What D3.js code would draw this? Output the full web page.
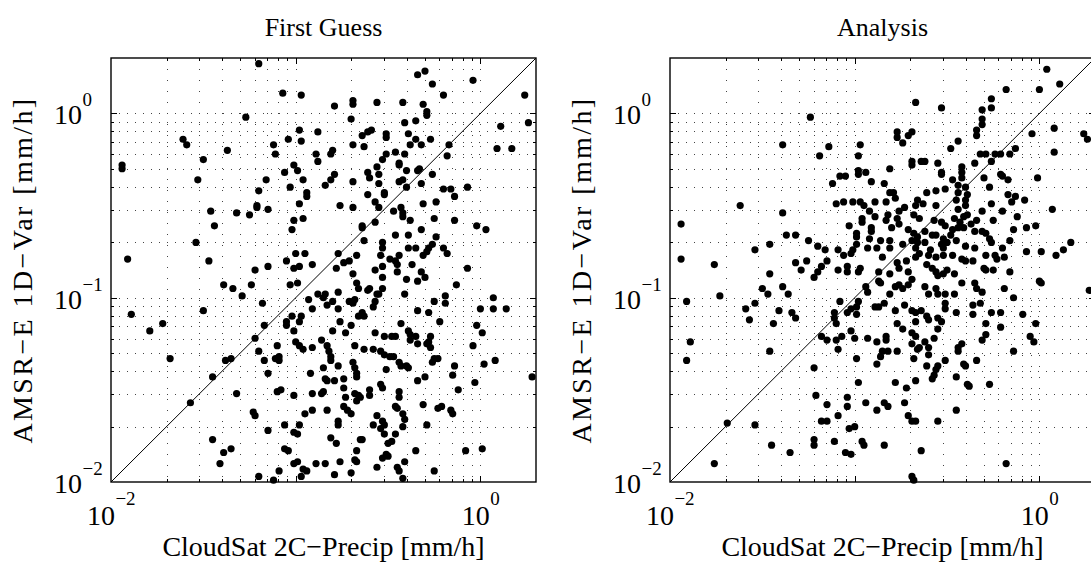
<!DOCTYPE html>
<html>
<head>
<meta charset="utf-8">
<script src="https://cdn.jsdelivr.net/npm/d3@7"></script>
<style>
  body { margin: 0; background: #fff; }
  svg { display: block; }
</style>
</head>
<body>
<div id="chart-area"></div>
<script>
// labels and axis settings
const panelTitles = ["First Guess", "Analysis"];
const xLabel = "CloudSat 2C\u2212Precip [mm/h]";
const yLabel = "AMSR\u2212E 1D\u2212Var [mm/h]";
const axisLimits = [0.01, 2];
const xTickExponents = [-2, 0];
const yTickExponents = [-2, -1, 0];

// [log10 CloudSat rain, log10 AMSR-E 1D-Var rain], mm/h
const firstGuessLog10 = [
  [-1.20,0.27],[-1.07,0.11],[-0.97,0.10],[-1.27,-0.02],[-0.98,-0.09],[-0.88,-0.10],[-1.61,-0.14],[-1.59,-0.17],[-1.04,-0.14],[-0.97,-0.15],
  [-1.12,-0.17],[-1.11,-0.22],[-1.37,-0.20],[-1.50,-0.25],[-0.89,-0.22],[-0.88,-0.26],[-1.94,-0.28],[-1.94,-0.30],[-1.01,-0.28],[-0.99,-0.31],
  [-1.06,-0.32],[-1.53,-0.36],[-1.16,-0.36],[-0.96,-0.36],[-1.20,-0.42],[-1.03,-0.40],[-0.94,-0.43],[-0.94,-0.45],[-0.98,-0.49],[-1.21,-0.50],
  [-1.21,-0.51],[-1.15,-0.52],[-1.46,-0.53],[-1.32,-0.54],[-1.25,-0.55],[-0.96,-0.57],[-1.01,-0.58],[-1.44,-0.61],[-1.02,-0.63],[-1.54,-0.70],
  [-1.91,-0.79],[-1.00,-0.76],[-0.95,-0.76],[-1.05,-0.80],[-1.47,-0.80],[-1.01,-0.84],[-0.98,-0.83],[-0.91,-0.82],[-1.15,-0.83],[-1.22,-0.85],
  [-1.39,-0.93],[-1.34,-0.95],[-1.24,-0.93],[-1.03,-0.93],[-0.99,-0.92],[-1.29,-0.99],[-0.88,-0.98],[-1.18,-1.03],[-0.93,-1.01],[-0.91,-1.06],
  [-1.89,-1.09],[-1.50,-1.07],[-1.02,-1.10],[-0.97,-1.10],[-1.05,-1.13],[-0.98,-1.13],[-1.05,-1.15],[-1.79,-1.18],[-1.72,-1.14],[-1.17,-1.15],
  [-1.01,-1.18],[-1.22,-1.22],[-1.00,-1.24],[-0.98,-1.26],[-0.96,-1.28],[-0.91,-1.27],[-1.10,-1.26],[-1.20,-1.29],[-1.68,-1.33],[-1.38,-1.34],
  [-1.35,-1.33],[-1.17,-1.34],[-1.11,-1.33],[-1.09,-1.32],[-1.09,-1.34],[-1.15,-1.41],[-0.92,-1.41],[-1.45,-1.43],[-1.08,-1.50],[-1.10,-1.51],
  [-1.32,-1.52],[-1.01,-1.53],[-0.91,-1.52],[-1.57,-1.57],[-1.23,-1.62],[-1.22,-1.64],[-0.91,-1.61],[-0.95,-1.63],[-0.98,-1.69],[-1.06,-1.69],
  [-1.15,-1.72],[-1.01,-1.73],[-0.99,-1.74],[-1.45,-1.77],[-1.35,-1.82],[-1.39,-1.84],[-1.06,-1.82],[-1.04,-1.83],[-1.41,-1.90],[-1.01,-1.90],
  [-0.99,-1.89],[-0.89,-1.90],[-1.09,-1.94],[-0.96,-1.93],[-0.94,-1.94],[-1.20,-1.97],[-1.12,-1.99],[-0.97,-1.97],
  [-0.34,0.21],[-0.30,0.23],[-0.26,0.16],[-0.04,0.18],[-0.20,0.10],[0.24,0.10],[-0.79,0.04],[-0.69,0.07],[-0.69,0.05],[-0.56,0.06],
  [-0.42,0.06],[-0.31,0.05],[-0.29,0.01],[-0.29,-0.01],[-0.70,-0.03],[0.11,-0.07],[0.26,-0.05],[-0.41,-0.05],[-0.35,-0.04],[-0.64,-0.12],
  [-0.61,-0.10],[-0.59,-0.09],[-0.51,-0.11],[-0.51,-0.13],[-0.39,-0.11],[-0.35,-0.14],[-0.27,-0.14],[-0.69,-0.17],[-0.63,-0.18],[-0.38,-0.17],
  [-0.32,-0.17],[-0.17,-0.17],[-0.18,-0.23],[0.09,-0.19],[0.17,-0.19],[-0.80,-0.20],[-0.81,-0.22],[-0.46,-0.21],[-0.51,-0.22],[-0.53,-0.25],
  [-0.56,-0.29],[-0.41,-0.22],[-0.44,-0.27],[-0.44,-0.28],[-0.61,-0.32],[-0.60,-0.35],[-0.55,-0.33],[-0.40,-0.31],[-0.34,-0.31],[-0.33,-0.30],
  [-0.26,-0.33],[-0.79,-0.33],[-0.81,-0.36],[-0.84,-0.39],[-0.69,-0.37],[-0.55,-0.38],[-0.44,-0.37],[-0.42,-0.36],[-0.40,-0.40],[-0.32,-0.38],
  [-0.20,-0.41],[-0.16,-0.41],[-0.14,-0.45],[-0.07,-0.40],[-0.61,-0.44],[-0.52,-0.43],[-0.52,-0.44],[-0.57,-0.48],[-0.55,-0.51],[-0.76,-0.50],
  [-0.69,-0.51],[-0.47,-0.53],[-0.43,-0.51],[-0.42,-0.54],[-0.42,-0.56],[-0.31,-0.49],[-0.24,-0.48],[-0.38,-0.58],[-0.25,-0.57],[-0.14,-0.58],
  [-0.64,-0.61],[-0.64,-0.62],[-0.57,-0.59],[-0.02,-0.61],[0.03,-0.63],[-0.63,-0.69],[-0.46,-0.66],[-0.39,-0.66],[-0.32,-0.63],[-0.24,-0.67],
  [-0.26,-0.71],[-0.28,-0.73],[-0.20,-0.73],[-0.18,-0.76],[-0.53,-0.70],[-0.53,-0.73],[-0.54,-0.77],[-0.49,-0.79],[-0.46,-0.80],[-0.44,-0.77],
  [-0.45,-0.82],[-0.39,-0.73],[-0.35,-0.73],[-0.31,-0.77],[-0.29,-0.75],[-0.77,-0.76],[-0.67,-0.77],[-0.71,-0.80],[-0.74,-0.81],[-0.78,-0.84],
  [-0.53,-0.83],[-0.57,-0.85],[-0.53,-0.89],[-0.45,-0.86],[-0.37,-0.82],[-0.32,-0.86],[-0.30,-0.89],[-0.34,-0.91],[-0.40,-0.90],[-0.07,-0.84],
  [-0.13,-0.93],[-0.69,-0.87],[-0.67,-0.92],[-0.66,-0.95],[-0.61,-0.96],[-0.60,-0.95],[-0.53,-0.95],[-0.55,-0.98],[-0.56,-0.98],[-0.41,-0.98],
  [-0.77,-0.97],[-0.84,-0.98],[-0.85,-1.00],[-0.80,-1.02],[-0.83,-1.04],[-0.71,-1.02],[-0.68,-1.01],[-0.69,-1.03],[-0.77,-1.06],[-0.57,-1.02],
  [-0.58,-1.05],[-0.64,-1.08],[-0.63,-1.10],[-0.66,-1.10],[-0.25,-1.02],[-0.19,-0.99],[-0.19,-1.03],[-0.34,-1.07],[-0.28,-1.08],[-0.22,-1.13],
  [-0.43,-1.14],[-0.76,-1.13],[-0.70,-1.15],[-0.73,-1.19],[-0.80,-1.18],[-0.57,-1.19],[-0.52,-1.21],[-0.48,-1.21],[-0.46,-1.21],[-0.39,-1.18],
  [-0.38,-1.20],[-0.35,-1.21],[-0.38,-1.23],[-0.34,-1.25],[-0.27,-1.21],[-0.28,-1.24],[-0.29,-1.25],[-0.27,-1.27],[-0.02,-1.15],[0.01,-1.19],
  [0.00,-1.06],[0.07,-1.00],[0.07,-1.06],[0.14,-1.06],[-0.04,-1.26],[-0.86,-1.23],[-0.83,-1.26],[-0.82,-1.29],[-0.81,-1.32],[-0.81,-1.34],
  [-0.77,-1.37],[-0.85,-1.38],[-0.68,-1.26],[-0.63,-1.28],[-0.58,-1.28],[-0.54,-1.29],[-0.52,-1.31],[-0.49,-1.32],[-0.47,-1.32],[-0.44,-1.35],
  [-0.43,-1.37],[-0.40,-1.37],[-0.39,-1.38],[-0.51,-1.39],[-0.69,-1.35],[-0.68,-1.38],[-0.67,-1.41],[-0.67,-1.43],[-0.25,-1.33],[-0.23,-1.33],
  [-0.26,-1.35],[-0.14,-1.37],[-0.15,-1.42],[-0.30,-1.43],[-0.34,-1.45],[-0.03,-1.46],[0.02,-1.36],[0.08,-1.34],[0.28,-1.43],[-0.84,-1.44],
  [-0.83,-1.45],[-0.79,-1.45],[-0.74,-1.44],[-0.85,-1.51],[-0.86,-1.52],[-0.74,-1.49],[-0.73,-1.54],[-0.54,-1.47],[-0.53,-1.49],[-0.68,-1.52],
  [-0.66,-1.53],[-0.67,-1.56],[-0.65,-1.54],[-0.60,-1.50],[-0.60,-1.53],[-0.44,-1.51],[-0.44,-1.54],[-0.45,-1.60],[-0.46,-1.59],[-0.31,-1.58],
  [-0.23,-1.60],[-0.21,-1.59],[-0.16,-1.61],[-0.15,-1.63],[-0.12,-1.50],[-0.83,-1.61],[-0.74,-1.59],[-0.72,-1.61],[-0.70,-1.63],[-0.77,-1.67],
  [-0.77,-1.69],[-0.58,-1.69],[-0.56,-1.64],[-0.53,-1.67],[-0.52,-1.69],[-0.54,-1.71],[-0.52,-1.74],[-0.42,-1.63],[-0.41,-1.66],[-0.42,-1.70],
  [-0.46,-1.74],[-0.48,-1.78],[-0.50,-1.79],[-0.29,-1.69],[-0.81,-1.76],[-0.78,-1.79],[-0.65,-1.77],[-0.64,-1.77],[-0.67,-1.83],[-0.68,-1.88],
  [-0.67,-1.89],[-0.51,-1.85],[-0.50,-1.86],[-0.53,-1.87],[-0.56,-1.92],[-0.41,-1.89],[-0.45,-1.92],[-0.44,-1.94],[-0.42,-1.98],[-0.35,-1.83],
  [-0.25,-1.94],[-0.08,-1.83],[0.01,-1.82],[-0.84,-1.90],[-0.76,-1.89],[-0.79,-1.96],[-0.70,-1.95]
];

const analysisLog10 = [
  [-1.24,-0.02],[-1.39,-0.17],[-1.14,-0.18],[-1.19,-0.23],[-0.97,-0.17],[-0.98,-0.23],[-0.98,-0.31],[-0.98,-0.33],[-0.94,-0.32],[-0.91,-0.37],
  [-1.08,-0.34],[-1.05,-0.34],[-1.12,-0.38],[-1.62,-0.50],[-1.39,-0.54],[-1.10,-0.49],[-1.06,-0.48],[-1.01,-0.48],[-0.97,-0.48],[-0.95,-0.50],
  [-0.89,-0.48],[-0.92,-0.53],[-0.96,-0.57],[-0.96,-0.59],[-1.03,-0.61],[-0.91,-0.62],[-0.91,-0.64],[-0.99,-0.65],[-0.99,-0.67],[-1.94,-0.60],
  [-1.37,-0.66],[-1.32,-0.66],[-1.25,-0.69],[-1.20,-0.72],[-1.16,-0.74],[-1.09,-0.74],[-1.06,-0.77],[-0.99,-0.71],[-1.01,-0.74],[-1.02,-0.76],
  [-0.93,-0.73],[-0.92,-0.68],[-1.54,-0.74],[-1.46,-0.71],[-1.94,-0.79],[-1.76,-0.82],[-1.32,-0.81],[-1.29,-0.85],[-1.26,-0.80],[-1.15,-0.80],
  [-1.18,-0.83],[-1.20,-0.86],[-1.22,-0.89],[-1.04,-0.83],[-1.04,-0.86],[-1.09,-0.85],[-0.97,-0.84],[-0.98,-0.86],[-1.46,-0.87],[-1.50,-0.95],
  [-1.47,-0.98],[-1.39,-0.94],[-1.36,-0.98],[-1.73,-0.99],[-1.91,-1.02],[-1.54,-1.03],[-1.59,-1.06],[-1.57,-1.12],[-1.41,-1.07],[-1.34,-1.08],
  [-1.32,-1.11],[-1.44,-1.14],[-1.08,-1.02],[-0.94,-0.94],[-0.93,-0.97],[-0.98,-1.02],[-0.99,-1.05],[-1.02,-1.06],[-1.04,-1.08],[-0.99,-1.09],
  [-0.89,-1.05],[-1.11,-1.08],[-1.11,-1.11],[-1.10,-1.14],[-1.02,-1.18],[-1.18,-1.21],[-1.15,-1.23],[-1.10,-1.23],[-1.07,-1.21],[-1.09,-1.28],
  [-1.00,-1.22],[-0.93,-1.22],[-0.99,-1.33],[-1.89,-1.24],[-1.91,-1.34],[-1.46,-1.29],[-1.22,-1.38],[-0.98,-1.46],[-1.21,-1.53],[-1.15,-1.58],
  [-1.04,-1.54],[-1.04,-1.59],[-1.09,-1.64],[-0.94,-1.57],[-1.18,-1.67],[-1.15,-1.67],[-1.03,-1.71],[-1.00,-1.70],[-1.69,-1.68],[-1.54,-1.69],
  [-1.45,-1.80],[-1.35,-1.84],[-1.22,-1.77],[-1.22,-1.80],[-1.11,-1.78],[-0.96,-1.78],[-0.95,-1.80],[-1.05,-1.84],[-1.02,-1.85],[-1.76,-1.90],
  [0.04,0.24],[0.11,0.16],[0.00,0.13],[-0.18,0.13],[-0.67,0.06],[-0.53,0.03],[-0.26,0.08],[-0.26,0.03],[-0.31,0.02],[-0.31,-0.03],
  [-0.31,-0.06],[-0.34,-0.09],[-0.34,-0.12],[-0.04,-0.11],[0.08,-0.08],[0.08,-0.21],[0.24,-0.11],[0.26,-0.14],[-0.77,-0.10],[-0.77,-0.13],
  [-0.74,-0.16],[-0.71,-0.12],[-0.69,-0.10],[-0.48,-0.19],[-0.44,-0.15],[-0.29,-0.22],[-0.32,-0.22],[-0.26,-0.26],[-0.24,-0.22],[-0.21,-0.22],
  [-0.16,-0.22],[-0.13,-0.19],[-0.35,-0.27],[-0.69,-0.26],[-0.69,-0.28],[-0.64,-0.26],[-0.62,-0.26],[-0.55,-0.27],[-0.53,-0.32],[-0.53,-0.33],
  [-0.81,-0.30],[-0.42,-0.29],[-0.42,-0.32],[-0.42,-0.35],[-0.47,-0.36],[-0.44,-0.39],[-0.44,-0.43],[-0.40,-0.40],[-0.39,-0.44],[-0.51,-0.41],
  [-0.56,-0.42],[-0.61,-0.43],[-0.84,-0.38],[-0.81,-0.43],[-0.79,-0.43],[-0.78,-0.46],[-0.83,-0.48],[-0.30,-0.35],[-0.27,-0.40],[-0.21,-0.33],
  [-0.20,-0.34],[-0.17,-0.36],[-0.01,-0.35],[-0.17,-0.44],[-0.15,-0.48],[-0.13,-0.45],[-0.08,-0.47],[-0.26,-0.49],[-0.20,-0.53],[0.07,-0.52],
  [-0.66,-0.47],[-0.67,-0.50],[-0.63,-0.49],[-0.56,-0.50],[-0.45,-0.47],[-0.40,-0.47],[-0.40,-0.50],[-0.44,-0.52],[-0.73,-0.51],[-0.76,-0.53],
  [-0.77,-0.57],[-0.82,-0.55],[-0.83,-0.58],[-0.89,-0.56],[-0.68,-0.55],[-0.65,-0.57],[-0.57,-0.58],[-0.53,-0.59],[-0.51,-0.61],[-0.46,-0.57],
  [-0.41,-0.56],[-0.39,-0.55],[-0.31,-0.53],[-0.34,-0.58],[-0.37,-0.60],[-0.12,-0.56],[-0.25,-0.58],[-0.07,-0.62],[-0.02,-0.61],[-0.14,-0.63],
  [-0.71,-0.63],[-0.68,-0.65],[-0.66,-0.67],[-0.62,-0.64],[-0.58,-0.66],[-0.56,-0.66],[-0.52,-0.68],[-0.48,-0.66],[-0.47,-0.63],[-0.44,-0.62],
  [-0.43,-0.59],[-0.41,-0.62],[-0.35,-0.64],[-0.31,-0.64],[-0.29,-0.65],[-0.27,-0.68],[-0.26,-0.70],[-0.76,-0.60],[-0.80,-0.62],[-0.81,-0.69],
  [-0.86,-0.69],[-0.88,-0.73],[-0.85,-0.78],[-0.81,-0.73],[-0.74,-0.71],[-0.69,-0.69],[-0.66,-0.70],[-0.67,-0.73],[-0.65,-0.76],[-0.62,-0.70],
  [-0.59,-0.74],[-0.53,-0.71],[-0.52,-0.73],[-0.50,-0.70],[-0.45,-0.69],[-0.40,-0.72],[-0.35,-0.73],[-0.52,-0.77],[-0.47,-0.77],[-0.42,-0.79],
  [-0.40,-0.80],[-0.36,-0.80],[-0.29,-0.77],[-0.24,-0.77],[-0.20,-0.73],[-0.23,-0.79],[-0.19,-0.78],[-0.16,-0.69],[-0.07,-0.75],[0.01,-0.75],
  [0.09,-0.77],[0.13,-0.74],[0.17,-0.70],[-0.61,-0.82],[-0.58,-0.84],[-0.56,-0.86],[-0.55,-0.88],[-0.52,-0.87],[-0.50,-0.85],[-0.46,-0.87],
  [-0.42,-0.92],[-0.56,-0.78],[-0.60,-0.77],[-0.67,-0.78],[-0.72,-0.80],[-0.77,-0.81],[-0.76,-0.84],[-0.81,-0.87],[-0.87,-0.86],[-0.87,-0.91],
  [-0.86,-0.92],[-0.71,-0.86],[-0.69,-0.90],[-0.71,-0.93],[-0.76,-0.93],[-0.74,-0.95],[-0.78,-0.94],[-0.81,-0.98],[-0.84,-1.03],[-0.87,-1.05],
  [-0.62,-0.94],[-0.60,-0.98],[-0.56,-0.95],[-0.55,-0.98],[-0.51,-0.98],[-0.46,-0.98],[-0.51,-1.03],[-0.51,-1.06],[-0.45,-1.08],[-0.36,-1.04],
  [-0.35,-0.92],[-0.34,-0.95],[-0.31,-0.97],[-0.32,-1.03],[-0.30,-0.84],[-0.29,-0.85],[-0.25,-0.85],[-0.29,-1.14],[-0.29,-1.20],[-0.31,-1.23],
  [-0.36,-1.09],[-0.26,-1.08],[-0.21,-1.08],[-0.21,-1.16],[-0.19,-0.95],[-0.14,-1.00],[-0.16,-0.86],[0.00,-0.91],[0.01,-0.92],[-0.09,-1.09],
  [-0.02,-1.14],[-0.05,-1.21],[-0.03,-1.24],[-0.14,-1.29],[0.27,-0.96],[-0.73,-1.04],[-0.78,-1.07],[-0.69,-1.07],[-0.67,-1.08],[-0.67,-1.13],
  [-0.64,-1.07],[-0.61,-1.10],[-0.60,-1.12],[-0.55,-1.11],[-0.53,-1.13],[-0.55,-1.17],[-0.57,-1.22],[-0.77,-1.14],[-0.74,-1.17],[-0.69,-1.19],
  [-0.67,-1.21],[-0.69,-1.25],[-0.65,-1.27],[-0.66,-1.28],[-0.62,-1.24],[-0.60,-1.27],[-0.60,-1.31],[-0.68,-1.33],[-0.61,-1.37],[-0.55,-1.37],
  [-0.51,-1.34],[-0.56,-1.39],[-0.57,-1.42],[-0.58,-1.44],[-0.45,-1.43],[-0.41,-1.36],[-0.40,-1.37],[-0.42,-1.25],[-0.44,-1.27],[-0.44,-1.29],
  [-0.34,-1.34],[-0.39,-1.47],[-0.38,-1.48],[-0.27,-1.47],[-0.83,-1.21],[-0.83,-1.23],[-0.82,-1.29],[-0.85,-1.29],[-0.86,-1.32],[-0.88,-1.36],
  [-0.77,-1.29],[-0.88,-1.24],[-0.78,-1.46],[-0.72,-1.49],[-0.67,-1.45],[-0.73,-1.57],[-0.82,-1.59],[-0.84,-1.57],[-0.88,-1.61],[-0.71,-1.64],
  [-0.69,-1.67],[-0.67,-1.67],[-0.55,-1.67],[-0.45,-1.61],[-0.84,-1.80],[-0.64,-1.83],[-0.18,-1.90],[-0.69,-1.97],[-0.68,-1.99]
];

// layout
const W = 1091, H = 566;
const plotTop = 58, plotBottom = 482, plotSize = 425;
const panels = [
  {left: 111, title: panelTitles[0], data: firstGuessLog10},
  {left: 670, title: panelTitles[1], data: analysisLog10}
];

const svg = d3.select("#chart-area")
  .append("svg")
    .attr("width", W)
    .attr("height", H)
    .style("font-family", "'Liberation Serif', 'Times New Roman', serif");

const isMajor = v => Math.abs(Math.log10(v) - Math.round(Math.log10(v))) < 1e-6;
const supText = e => (e < 0 ? "\u2212" + (-e) : String(e));
const crisp = v => Math.round(v) + 0.5;

panels.forEach(p => {
  const x = d3.scaleLog().domain(axisLimits).range([p.left, p.left + plotSize]);
  const y = d3.scaleLog().domain(axisLimits).range([plotBottom, plotTop]);
  const g = svg.append("g");

  const allTicks = x.ticks();
  const inner = allTicks.filter(t => t > axisLimits[0] * 1.001 && t < axisLimits[1] * 0.999);

  // dotted grid at major and minor ticks
  g.append("g").selectAll("line")
    .data(inner)
    .join("line")
      .attr("x1", d => crisp(x(d))).attr("x2", d => crisp(x(d)))
      .attr("y1", plotTop).attr("y2", plotBottom)
      .attr("stroke", "#444")
      .attr("stroke-dasharray", "1,10");
  g.append("g").selectAll("line")
    .data(inner)
    .join("line")
      .attr("y1", d => crisp(y(d))).attr("y2", d => crisp(y(d)))
      .attr("x1", p.left).attr("x2", p.left + plotSize)
      .attr("stroke", "#444")
      .attr("stroke-dasharray", "1,7");

  // 1:1 line
  g.append("line")
    .attr("x1", x(axisLimits[0])).attr("y1", y(axisLimits[0]))
    .attr("x2", x(axisLimits[1])).attr("y2", y(axisLimits[1]))
    .attr("stroke", "#000")
    .attr("stroke-width", 1);

  // scatter
  g.append("g").selectAll("circle")
    .data(p.data)
    .join("circle")
      .attr("cx", d => x(Math.pow(10, d[0])))
      .attr("cy", d => y(Math.pow(10, d[1])))
      .attr("r", 3.6)
      .attr("fill", "#000");

  // inward ticks on all four sides
  const tk = g.append("g").attr("stroke", "#000").attr("stroke-width", 1);
  inner.forEach(t => {
    const len = isMajor(t) ? 6 : 3;
    const xx = crisp(x(t)), yy = crisp(y(t));
    tk.append("line").attr("x1", xx).attr("x2", xx).attr("y1", plotBottom).attr("y2", plotBottom - len);
    tk.append("line").attr("x1", xx).attr("x2", xx).attr("y1", plotTop).attr("y2", plotTop + len);
    tk.append("line").attr("y1", yy).attr("y2", yy).attr("x1", p.left).attr("x2", p.left + len);
    tk.append("line").attr("y1", yy).attr("y2", yy).attr("x1", p.left + plotSize).attr("x2", p.left + plotSize - len);
  });

  // box
  g.append("rect")
    .attr("x", p.left).attr("y", plotTop)
    .attr("width", plotSize).attr("height", plotBottom - plotTop)
    .attr("fill", "none")
    .attr("stroke", "#000")
    .attr("stroke-width", 1.4);

  // x tick labels: base and exponent as separate texts, centred together on the tick
  xTickExponents.forEach(e => {
    const cx = x(Math.pow(10, e));
    const base = g.append("text").attr("y", 525).attr("font-size", 28).text("10");
    const sup = g.append("text").attr("y", 505).attr("font-size", 19).text(supText(e));
    const wb = base.node().getComputedTextLength();
    const ws = sup.node().getComputedTextLength();
    const x0 = cx - (wb + ws) / 2;
    base.attr("x", x0);
    sup.attr("x", x0 + wb + 0.5);
  });

  // y tick labels
  yTickExponents.forEach(e => {
    const yy = y(Math.pow(10, e));
    g.append("text")
      .attr("x", p.left - 29).attr("y", yy + 11)
      .attr("text-anchor", "end")
      .attr("font-size", 28)
      .text("10");
    g.append("text")
      .attr("x", p.left - 28.5).attr("y", yy - 7)
      .attr("text-anchor", "start")
      .attr("font-size", 19)
      .text(supText(e));
  });

  // titles and axis labels
  g.append("text")
    .attr("x", p.left + plotSize / 2).attr("y", 36)
    .attr("text-anchor", "middle")
    .attr("font-size", 26)
    .text(p.title);
  g.append("text")
    .attr("x", p.left + plotSize / 2).attr("y", 556)
    .attr("text-anchor", "middle")
    .attr("font-size", 28)
    .text(xLabel);
  g.append("text")
    .attr("transform", `translate(${p.left - 79}, ${(plotTop + plotBottom) / 2}) rotate(-90)`)
    .attr("text-anchor", "middle")
    .attr("font-size", 28)
    .attr("letter-spacing", 2.4)
    .text(yLabel);
});
</script>
</body>
</html>
